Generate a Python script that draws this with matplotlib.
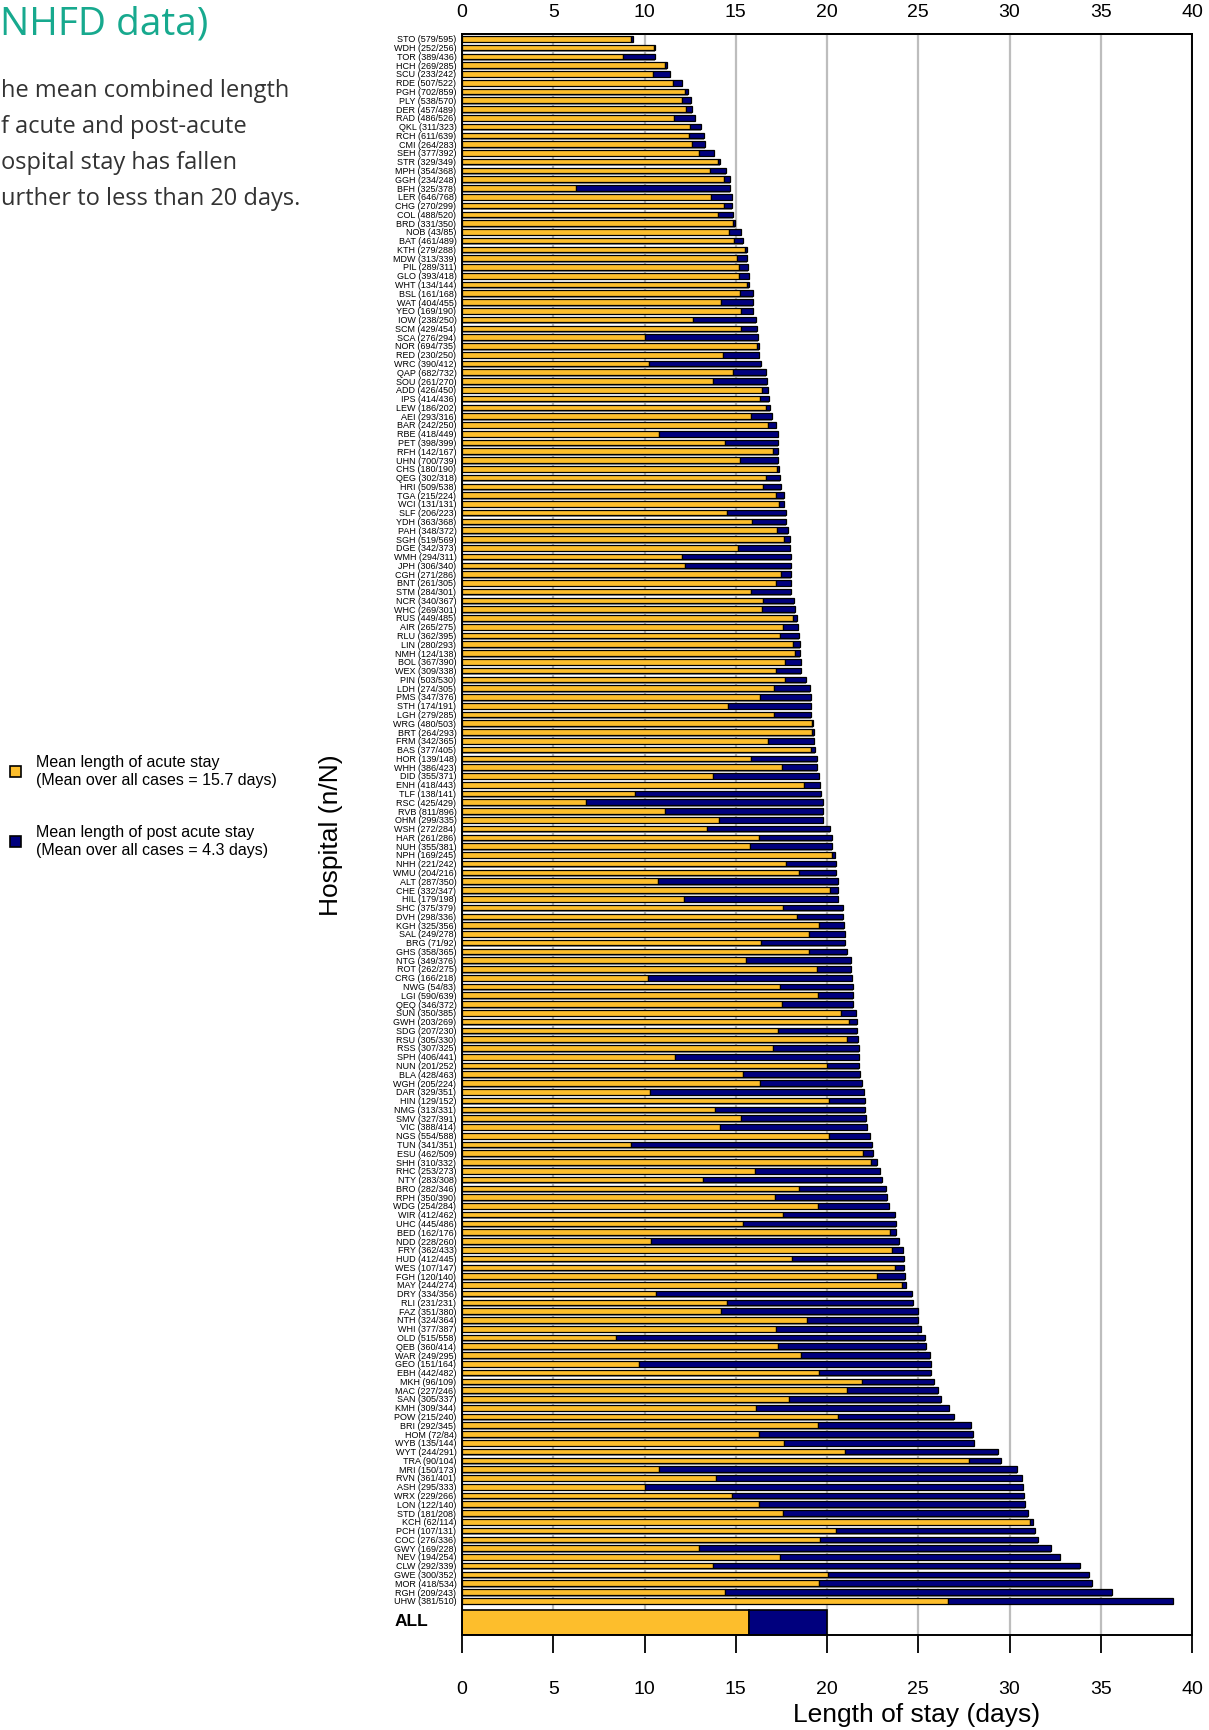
import numpy as np
import matplotlib
matplotlib.use('Agg')
import matplotlib.pyplot as plt
from matplotlib.patches import Rectangle

plt.rcParams['font.family'] = ['Liberation Sans', 'DejaVu Sans']

# hospital codes, cases with acute/post-acute data (n) and all cases (N), ordered as in chart
codes = ['STO', 'WDH', 'TOR', 'HCH', 'SCU', 'RDE', 'PGH', 'PLY', 'DER', 'RAD',
         'QKL', 'RCH', 'CMI', 'SEH', 'STR', 'MPH', 'GGH', 'BFH', 'LER', 'CHG',
         'COL', 'BRD', 'NOB', 'BAT', 'KTH', 'MDW', 'PIL', 'GLO', 'WHT', 'BSL',
         'WAT', 'YEO', 'IOW', 'SCM', 'SCA', 'NOR', 'RED', 'WRC', 'QAP', 'SOU',
         'ADD', 'IPS', 'LEW', 'AEI', 'BAR', 'RBE', 'PET', 'RFH', 'UHN', 'CHS',
         'QEG', 'HRI', 'TGA', 'WCI', 'SLF', 'YDH', 'PAH', 'SGH', 'DGE', 'WMH',
         'JPH', 'CGH', 'BNT', 'STM', 'NCR', 'WHC', 'RUS', 'AIR', 'RLU', 'LIN',
         'NMH', 'BOL', 'WEX', 'PIN', 'LDH', 'PMS', 'STH', 'LGH', 'WRG', 'BRT',
         'FRM', 'BAS', 'HOR', 'WHH', 'DID', 'ENH', 'TLF', 'RSC', 'RVB', 'OHM',
         'WSH', 'HAR', 'NUH', 'NPH', 'NHH', 'WMU', 'ALT', 'CHE', 'HIL', 'SHC',
         'DVH', 'KGH', 'SAL', 'BRG', 'GHS', 'NTG', 'ROT', 'CRG', 'NWG', 'LGI',
         'QEQ', 'SUN', 'GWH', 'SDG', 'RSU', 'RSS', 'SPH', 'NUN', 'BLA', 'WGH',
         'DAR', 'HIN', 'NMG', 'SMV', 'VIC', 'NGS', 'TUN', 'ESU', 'SHH', 'RHC',
         'NTY', 'BRO', 'RPH', 'WDG', 'WIR', 'UHC', 'BED', 'NDD', 'FRY', 'HUD',
         'WES', 'FGH', 'MAY', 'DRY', 'RLI', 'FAZ', 'NTH', 'WHI', 'OLD', 'QEB',
         'WAR', 'GEO', 'EBH', 'MKH', 'MAC', 'SAN', 'KMH', 'POW', 'BRI', 'HOM',
         'WYB', 'WYT', 'TRA', 'MRI', 'RVN', 'ASH', 'WRX', 'LON', 'STD', 'KCH',
         'PCH', 'COC', 'GWY', 'NEV', 'CLW', 'GWE', 'MOR', 'RGH', 'UHW']

n_cases = [579, 252, 389, 269, 233, 507, 702, 538, 457, 486,
           311, 611, 264, 377, 329, 354, 234, 325, 646, 270,
           488, 331, 43, 461, 279, 313, 289, 393, 134, 161,
           404, 169, 238, 429, 276, 694, 230, 390, 682, 261,
           426, 414, 186, 293, 242, 418, 398, 142, 700, 180,
           302, 509, 215, 131, 206, 363, 348, 519, 342, 294,
           306, 271, 261, 284, 340, 269, 449, 265, 362, 280,
           124, 367, 309, 503, 274, 347, 174, 279, 480, 264,
           342, 377, 139, 386, 355, 418, 138, 425, 811, 299,
           272, 261, 355, 169, 221, 204, 287, 332, 179, 375,
           298, 325, 249, 71, 358, 349, 262, 166, 54, 590,
           346, 350, 203, 207, 305, 307, 406, 201, 428, 205,
           329, 129, 313, 327, 388, 554, 341, 462, 310, 253,
           283, 282, 350, 254, 412, 445, 162, 228, 362, 412,
           107, 120, 244, 334, 231, 351, 324, 377, 515, 360,
           249, 151, 442, 96, 227, 305, 309, 215, 292, 72,
           135, 244, 90, 150, 361, 295, 229, 122, 181, 62,
           107, 276, 169, 194, 292, 300, 418, 209, 381]

N_cases = [595, 256, 436, 285, 242, 522, 859, 570, 489, 526,
           323, 639, 283, 392, 349, 368, 248, 378, 768, 299,
           520, 350, 85, 489, 288, 339, 311, 418, 144, 168,
           455, 190, 250, 454, 294, 735, 250, 412, 732, 270,
           450, 436, 202, 316, 250, 449, 399, 167, 739, 190,
           318, 538, 224, 131, 223, 368, 372, 569, 373, 311,
           340, 286, 305, 301, 367, 301, 485, 275, 395, 293,
           138, 390, 338, 530, 305, 376, 191, 285, 503, 293,
           365, 405, 148, 423, 371, 443, 141, 429, 896, 335,
           284, 286, 381, 245, 242, 216, 350, 347, 198, 379,
           336, 356, 278, 92, 365, 376, 275, 218, 83, 639,
           372, 385, 269, 230, 330, 325, 441, 252, 463, 224,
           351, 152, 331, 391, 414, 588, 351, 509, 332, 273,
           308, 346, 390, 284, 462, 486, 176, 260, 433, 445,
           147, 140, 274, 356, 231, 380, 364, 387, 558, 414,
           295, 164, 482, 109, 246, 337, 344, 240, 345, 84,
           144, 291, 104, 173, 401, 333, 266, 140, 208, 114,
           131, 336, 228, 254, 339, 352, 534, 243, 510]

# mean length of acute stay (days)
acute = [9.25, 10.5, 8.81, 11.1, 10.49, 11.54, 12.2, 12.07, 12.27, 11.61,
         12.47, 12.44, 12.62, 12.97, 14.0, 13.61, 14.36, 6.25, 13.64, 14.36,
         14.05, 14.85, 14.63, 14.89, 15.5, 15.07, 15.18, 15.16, 15.6, 15.22,
         14.21, 15.31, 12.64, 15.27, 10.02, 16.15, 14.30, 10.24, 14.85, 13.75,
         16.45, 16.34, 16.65, 15.82, 16.76, 10.77, 14.41, 17.03, 15.22, 17.25,
         16.65, 16.52, 17.22, 17.36, 14.54, 15.88, 17.25, 17.64, 15.11, 12.03,
         12.23, 17.50, 17.20, 15.84, 16.51, 16.42, 18.16, 17.57, 17.44, 18.16,
         18.26, 17.72, 17.22, 17.72, 17.09, 16.35, 14.55, 17.09, 19.2, 19.2,
         16.79, 19.15, 15.81, 17.51, 13.78, 18.74, 9.46, 6.79, 11.13, 14.10,
         13.41, 16.29, 15.76, 20.27, 17.75, 18.47, 10.75, 20.18, 12.18, 17.57,
         18.33, 19.57, 19.0, 16.37, 19.0, 15.55, 19.43, 10.18, 17.43, 19.51,
         17.51, 20.78, 21.20, 17.29, 21.08, 17.06, 11.65, 19.98, 15.41, 16.35,
         10.29, 20.13, 13.89, 15.31, 14.15, 20.13, 9.26, 21.96, 22.40, 16.06,
         13.22, 18.44, 17.14, 19.52, 17.58, 15.37, 23.45, 10.36, 23.58, 18.08,
         23.71, 22.72, 24.11, 10.65, 14.53, 14.21, 18.88, 17.18, 8.44, 17.29,
         18.59, 9.69, 19.55, 21.92, 21.07, 17.94, 16.11, 20.59, 19.52, 16.28,
         17.66, 20.99, 27.80, 10.79, 13.92, 10.0, 14.79, 16.28, 17.58, 31.13,
         20.51, 19.63, 12.96, 17.41, 13.77, 20.03, 19.55, 14.42, 26.65]

# mean combined length of acute + post acute stay (days)
total = [9.35, 10.55, 10.59, 11.23, 11.39, 12.05, 12.36, 12.56, 12.62, 12.75,
         13.08, 13.28, 13.30, 13.79, 14.12, 14.45, 14.67, 14.67, 14.82, 14.82,
         14.84, 14.95, 15.27, 15.38, 15.59, 15.62, 15.68, 15.73, 15.75, 15.92,
         15.93, 15.97, 16.10, 16.14, 16.21, 16.25, 16.26, 16.41, 16.68, 16.72,
         16.76, 16.81, 16.87, 16.98, 17.18, 17.31, 17.31, 17.31, 17.31, 17.36,
         17.45, 17.47, 17.66, 17.67, 17.75, 17.78, 17.88, 17.95, 17.97, 18.03,
         18.03, 18.03, 18.05, 18.05, 18.20, 18.22, 18.33, 18.42, 18.44, 18.50,
         18.53, 18.55, 18.55, 18.85, 19.05, 19.11, 19.13, 19.15, 19.26, 19.29,
         19.31, 19.35, 19.44, 19.46, 19.57, 19.63, 19.65, 19.76, 19.78, 19.80,
         20.14, 20.25, 20.29, 20.43, 20.47, 20.51, 20.59, 20.63, 20.63, 20.86,
         20.90, 20.92, 20.96, 20.98, 21.08, 21.31, 21.33, 21.39, 21.43, 21.43,
         21.45, 21.57, 21.63, 21.67, 21.69, 21.73, 21.78, 21.78, 21.82, 21.91,
         22.0, 22.06, 22.08, 22.11, 22.19, 22.36, 22.46, 22.53, 22.72, 22.93,
         23.03, 23.24, 23.31, 23.39, 23.71, 23.77, 23.77, 23.96, 24.17, 24.21,
         24.23, 24.27, 24.34, 24.67, 24.72, 24.97, 24.99, 25.14, 25.39, 25.44,
         25.63, 25.69, 25.72, 25.89, 26.08, 26.25, 26.68, 26.96, 27.89, 28.0,
         28.08, 29.38, 29.52, 30.39, 30.70, 30.73, 30.82, 30.87, 31.01, 31.27,
         31.38, 31.58, 32.25, 32.76, 33.86, 34.34, 34.51, 35.61, 38.96]

all_acute = 15.7
all_post = 4.3

x_ticks = [0, 5, 10, 15, 20, 25, 30, 35, 40]

yellow = '#FDBE2C'
navy = '#00007E'
teal = '#17A98E'

W, H = 1209, 1730
fig = plt.figure(figsize=(W / 100, H / 100), dpi=100)
ax = fig.add_axes([462 / W, 1 - 1635 / H, (1192 - 462) / W, (1635 - 34) / H])

acute = np.array(acute)
total = np.array(total)
y = np.arange(len(codes))
labels = ['%s (%d/%d)' % (c, a, b) for c, a, b in zip(codes, n_cases, N_cases)]

# shadow strip under each bar
ax.barh(y + 0.2, total, height=0.64, color='#8c8c8c', lw=0, zorder=1)
ax.barh(y, acute, height=0.64, color=yellow, edgecolor='black', lw=0.9, zorder=2)
ax.barh(y, total - acute, left=acute, height=0.64, color=navy,
        edgecolor='black', lw=0.9, zorder=2)

# overall bar
ax.barh(180.47, all_acute, height=2.85, color=yellow, edgecolor='black', lw=1.2, zorder=2)
ax.barh(180.47, all_post, left=all_acute, height=2.85, color=navy,
        edgecolor='black', lw=1.2, zorder=2)

ax.set_xlim(0, 40)
ax.set_ylim(181.9, -0.55)
ax.set_xticks(x_ticks)
ax.xaxis.grid(True, color='#bdbdbd', lw=1.6)
ax.set_axisbelow(True)

ax.set_yticks(y)
ax.set_yticklabels(labels, fontsize=6.5)
ax.tick_params(axis='y', length=0, pad=4)
ax.tick_params(axis='x', direction='out', length=13, width=1.3, labelsize=14, pad=20)
for s in ax.spines.values():
    s.set_linewidth(1.4)

top = ax.secondary_xaxis('top')
top.set_xticks(x_ticks)
top.tick_params(length=0, labelsize=14, pad=9)
top.spines['top'].set_linewidth(1.4)

fig.text(917 / W, 1 - 1715 / H, 'Length of stay (days)', ha='center', va='center', fontsize=19)
fig.text(331 / W, 1 - 835 / H, 'Hospital (n/N)', rotation=90, ha='center', va='center', fontsize=19)
fig.text(395 / W, 1 - 1621 / H, 'ALL', ha='left', va='center', fontsize=12.5, fontweight='bold')

# legend
for cy, col, txt in [(771, yellow, 'Mean length of acute stay\n(Mean over all cases = 15.7 days)'),
                     (841, navy, 'Mean length of post acute stay\n(Mean over all cases = 4.3 days)')]:
    fig.add_artist(Rectangle((10 / W, 1 - (cy + 5.5) / H), 11 / W, 11 / H,
                             transform=fig.transFigure, facecolor=col,
                             edgecolor='black', lw=1.2))
    fig.text(36 / W, 1 - (cy + 0.5) / H, txt, ha='left', va='center',
             fontsize=11.5, linespacing=1.2)

# header text as it shows on the (cropped) page
fig.text(0, 1 - 35 / H, 'NHFD data)', color=teal, fontsize=28,
         family='Open Sans', va='baseline', ha='left')
para = [('he mean combined length', 1, 97),
        ('f acute and post-acute', 1, 133),
        ('ospital stay has fallen', 1, 169),
        ('urther to less than 20 days.', 1, 205)]
for txt, xl, yb in para:
    fig.text(xl / W, 1 - yb / H, txt, color='#333333', fontsize=17,
             family='Open Sans', ha='left', va='baseline')

fig.savefig('out.png', dpi=100)
